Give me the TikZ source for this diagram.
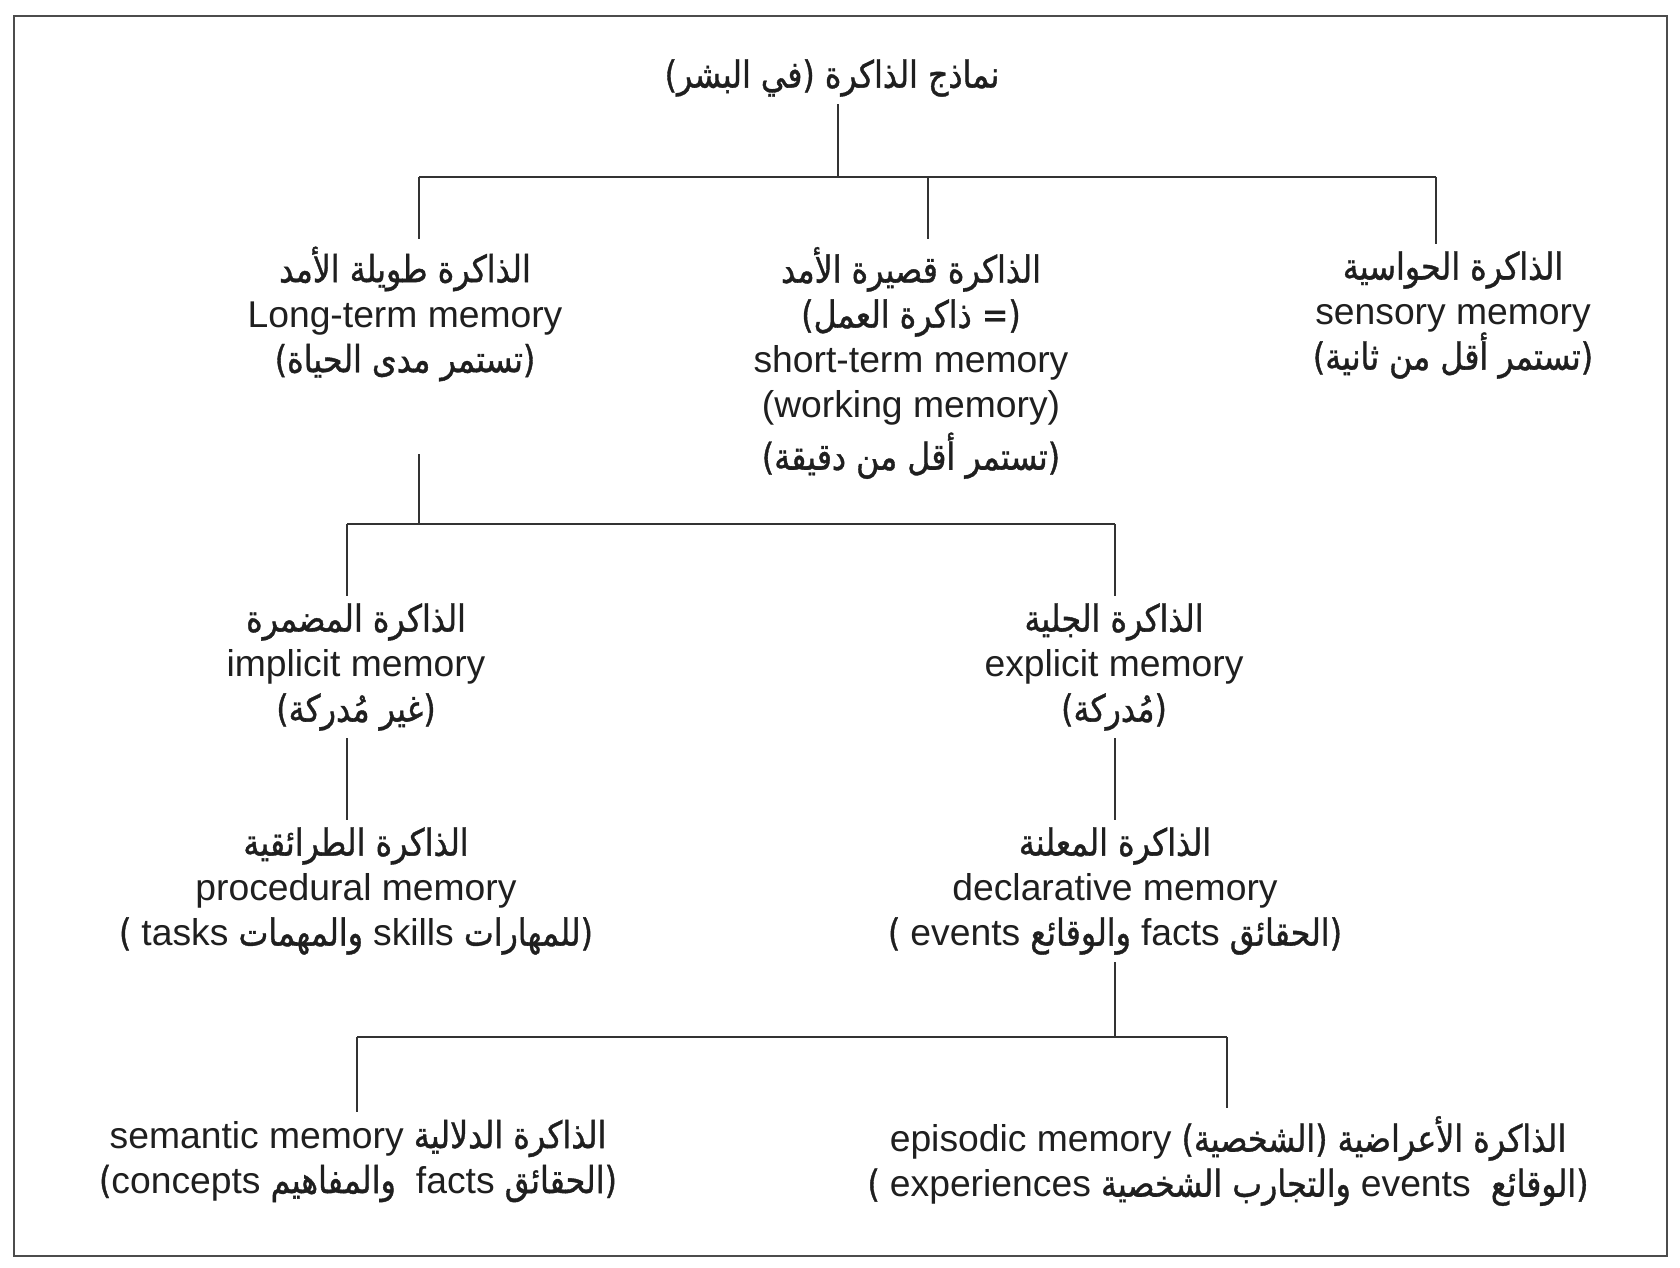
\documentclass[tikz,border=0pt]{standalone}
\usepackage{fontspec}
\setmainfont{Liberation Sans}
\newfontfamily\arabicfont[Script=Arabic, FakeStretch=0.85, FakeBold=1]{DejaVu Sans}
\TeXXeTstate=1
\newcommand{\arab}[1]{{\arabicfont\beginR #1\endR}}
\newcommand{\lat}[1]{\beginL{\rmfamily #1}\endL{}}

\begin{document}
\begin{tikzpicture}[x=0.01cm, y=-0.01cm,
    memnode/.style={align=center, inner sep=2pt, text=black!88, font=\fontsize{10.6}{12.8}\selectfont},
    link/.style={draw=black!80, line width=0.5pt}
]
    \useasboundingbox (0,0) rectangle (1680,1267);
    \draw[black!70, line width=0.6pt] (14,16) rectangle (1667,1256);

    % models of memory
    \node[memnode] (title) at (832,78) {\arab{نماذج الذاكرة (في البشر)}};

    \node[memnode] (ltm) at (405,314) {\arab{الذاكرة طويلة الأمد}\\ Long-term memory\\ \arab{(تستمر مدى الحياة)}};
    \node[memnode] (stm) at (911,363) {\arab{الذاكرة قصيرة الأمد}\\ \arab{(= ذاكرة العمل)}\\ short-term memory\\ (working memory)\\[2pt] \arab{(تستمر أقل من دقيقة)}};
    \node[memnode] (sens) at (1453,315) {\arab{الذاكرة الحواسية}\\ sensory memory\\ \arab{(تستمر أقل من ثانية)}};

    \coordinate (j0) at (838,177);
    \coordinate (jL) at (419,177);
    \coordinate (jM) at (928,177);
    \coordinate (jR) at (1436,177);
    \draw[link] (title.south -| j0) -- (j0);
    \draw[link] (jL) -- (jR);
    \draw[link] (jL) -- (ltm.north -| jL);
    \draw[link] (jM) -- (stm.north -| jM);
    \draw[link] (jR) -- (sens.north -| jR);

    % long-term memory
    \node[memnode] (impl) at (356,667) {\arab{الذاكرة المضمرة}\\ implicit memory\\ \arab{(غير مُدركة)}};
    \node[memnode] (expl) at (1114,667) {\arab{الذاكرة الجلية}\\ explicit memory\\ \arab{(مُدركة)}};
    \node[memnode] (proc) at (356,891) {\arab{الذاكرة الطرائقية}\\ procedural memory\\ \arab{(للمهارات \lat{skills} والمهمات \lat{tasks} )}};
    \node[memnode] (decl) at (1115,891) {\arab{الذاكرة المعلنة}\\ declarative memory\\ \arab{(الحقائق \lat{facts} والوقائع \lat{events} )}};

    \coordinate (ltm-out) at (419,454);
    \coordinate (k0) at (419,524);
    \coordinate (kL) at (347,524);
    \coordinate (kR) at (1115,524);
    \draw[link] (ltm-out) -- (k0);
    \draw[link] (kL) -- (kR);
    \draw[link] (kL) -- (impl.north -| kL);
    \draw[link] (kR) -- (expl.north -| kR);
    \draw[link] (impl.south -| kL) -- (proc.north -| kL);
    \draw[link] (expl.south -| kR) -- (decl.north -| kR);

    % declarative memory
    \node[memnode] (sem) at (358,1161) {\arab{الذاكرة الدلالية \lat{semantic memory}}\\ \arab{(الحقائق \lat{facts} \ والمفاهيم \lat{concepts})}};
    \node[memnode] (epi) at (1228,1161) {\arab{الذاكرة الأعراضية (الشخصية) \lat{episodic memory}}\\ \arab{(الوقائع \ \lat{events} والتجارب الشخصية \lat{experiences} )}};

    \coordinate (m0) at (1115,1037);
    \coordinate (mL) at (357,1037);
    \coordinate (mR) at (1227,1037);
    \draw[link] (decl.south -| m0) -- (m0);
    \draw[link] (mL) -- (mR);
    \draw[link] (mL) -- (sem.north -| mL);
    \draw[link] (mR) -- (epi.north -| mR);
\end{tikzpicture}
\end{document}
